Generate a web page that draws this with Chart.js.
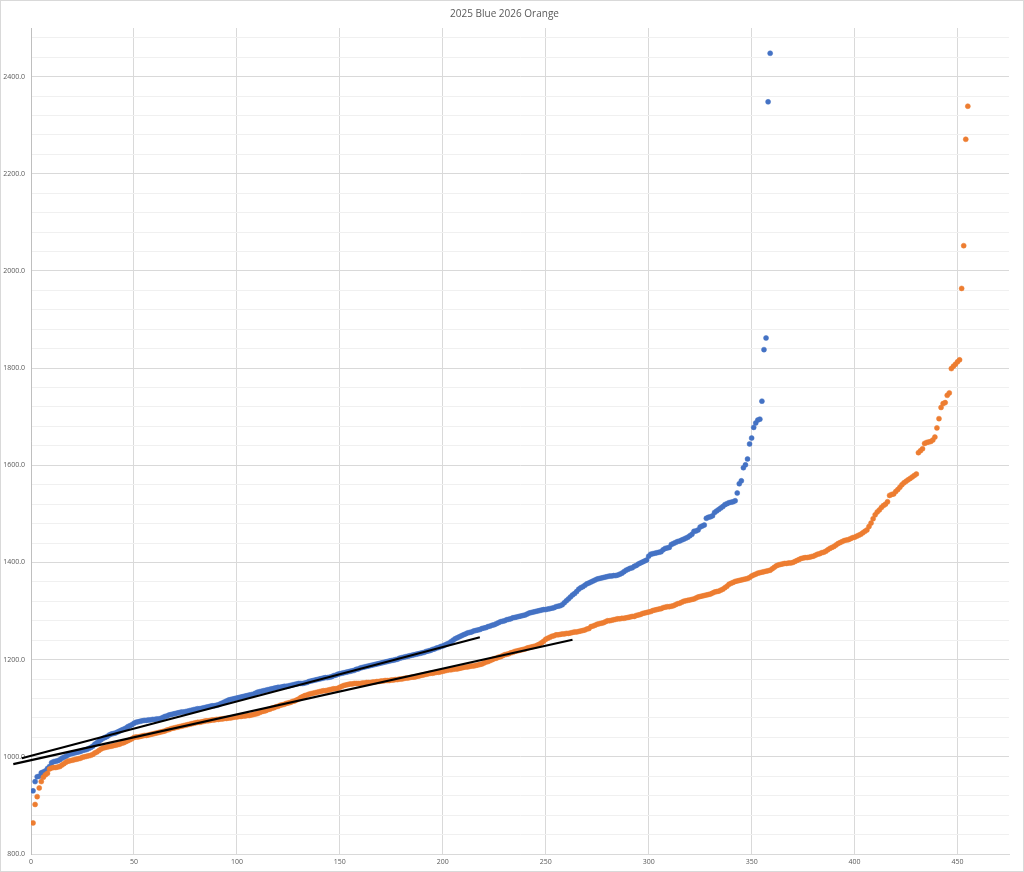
<!DOCTYPE html>
<html>
<head>
<meta charset="utf-8">
<script src="https://cdn.jsdelivr.net/npm/chart.js@4.4.1/dist/chart.umd.min.js"></script>
<style>
html,body{margin:0;padding:0;background:#fff;}
#wrap{width:1024px;height:872px;}
</style>
</head>
<body>
<div id="wrap"><canvas id="c" width="1024" height="872"></canvas></div>
<script>
const titleText = "2025 Blue 2026 Orange";
const xTicks = [0,50,100,150,200,250,300,350,400,450];
const yMajorTicks = [800,1000,1200,1400,1600,1800,2000,2200,2400];

// 2025 values (sorted), index 1..359
const blue2025 = [
930,949,959,960,967,969,971,976,980,988,990,991,992,994,997,999,1001,1004,1006,1007,
1008,1009,1010,1011,1013,1014,1015,1017,1019,1022,1026,1029,1032,1035,1038,1040,1042,1045,1047,1048,
1049,1051,1053,1055,1057,1059,1062,1064,1066,1069,1071,1072,1073,1074,1075,1075,1076,1076,1077,1077,
1078,1078,1079,1081,1083,1084,1086,1087,1088,1089,1090,1091,1092,1092,1093,1094,1095,1096,1097,1098,
1099,1099,1100,1101,1102,1103,1104,1105,1105,1106,1107,1109,1111,1113,1115,1117,1118,1119,1120,1121,
1122,1123,1124,1125,1126,1127,1128,1129,1131,1133,1134,1135,1136,1137,1138,1139,1140,1141,1142,1143,
1143,1144,1145,1145,1146,1147,1148,1149,1150,1151,1151,1151,1152,1153,1155,1156,1157,1158,1159,1160,
1161,1162,1163,1163,1164,1165,1167,1168,1170,1171,1172,1173,1174,1175,1176,1177,1178,1180,1181,1183,
1184,1185,1186,1187,1188,1189,1190,1191,1192,1193,1194,1195,1196,1197,1198,1199,1200,1201,1203,1204,
1205,1206,1207,1208,1209,1210,1211,1212,1213,1214,1215,1217,1218,1219,1221,1222,1224,1225,1227,1228,
1230,1232,1234,1237,1240,1243,1245,1247,1249,1251,1253,1255,1256,1257,1259,1260,1261,1262,1264,1265,
1266,1268,1269,1271,1272,1274,1276,1278,1279,1280,1282,1283,1284,1286,1287,1288,1289,1290,1291,1292,
1294,1296,1297,1298,1299,1300,1301,1302,1303,1303,1304,1305,1306,1307,1309,1310,1311,1313,1317,1321,
1325,1329,1333,1336,1340,1345,1348,1350,1353,1356,1358,1360,1362,1364,1366,1367,1368,1369,1370,1371,
1372,1372,1373,1373,1374,1376,1378,1381,1384,1386,1388,1389,1392,1394,1397,1399,1401,1403,1405,1413,
1417,1418,1419,1420,1421,1422,1426,1429,1430,1431,1437,1439,1441,1443,1444,1446,1448,1450,1452,1455,
1458,1464,1465,1467,1473,1475,1477,1491,1493,1494,1496,1503,1506,1509,1512,1515,1519,1521,1523,1524,
1525,1527,1543,1562,1568,1595,1601,1613,1644,1656,1678,1687,1693,1695,1732,1838,1862,2348,2448
];

// 2026 values (sorted), index 1..455
const orange2026 = [
864,902,918,936,949,958,963,966,975,977,978,978,979,980,983,986,989,991,992,993,
994,995,996,997,999,1000,1001,1002,1003,1005,1008,1010,1013,1016,1018,1019,1020,1021,1022,1023,
1024,1025,1026,1028,1029,1031,1033,1035,1037,1040,1041,1041,1042,1043,1044,1044,1045,1046,1047,1048,
1049,1050,1051,1052,1053,1055,1056,1058,1059,1060,1061,1062,1063,1064,1065,1066,1067,1068,1069,1070,
1071,1071,1072,1073,1074,1074,1075,1076,1076,1077,1077,1078,1078,1079,1079,1080,1080,1081,1082,1082,
1083,1083,1084,1084,1085,1085,1086,1087,1088,1089,1091,1093,1094,1095,1097,1098,1100,1101,1103,1104,
1106,1107,1108,1110,1111,1112,1114,1115,1117,1119,1122,1124,1126,1127,1129,1130,1131,1132,1133,1134,
1135,1136,1136,1137,1138,1139,1140,1140,1141,1143,1145,1147,1148,1149,1150,1150,1151,1151,1151,1151,
1152,1152,1153,1153,1153,1154,1154,1155,1155,1156,1156,1157,1157,1157,1158,1158,1159,1159,1160,1160,
1161,1162,1162,1163,1164,1164,1165,1166,1167,1168,1169,1170,1171,1172,1172,1173,1174,1174,1175,1176,
1177,1178,1179,1179,1180,1181,1181,1182,1183,1184,1185,1185,1186,1187,1187,1188,1189,1190,1191,1193,
1195,1196,1198,1200,1202,1203,1205,1206,1208,1210,1211,1212,1214,1215,1217,1218,1219,1220,1221,1222,
1224,1225,1226,1227,1228,1230,1232,1235,1238,1242,1244,1246,1248,1249,1251,1251,1252,1253,1253,1254,
1254,1255,1256,1257,1257,1258,1259,1260,1261,1263,1264,1268,1269,1271,1273,1274,1275,1276,1278,1280,
1280,1281,1282,1283,1284,1284,1285,1285,1286,1287,1288,1289,1289,1291,1292,1293,1295,1296,1297,1298,
1299,1301,1302,1303,1304,1305,1307,1308,1309,1309,1310,1311,1313,1315,1316,1318,1320,1321,1322,1323,
1324,1325,1327,1329,1330,1331,1332,1333,1334,1335,1337,1339,1340,1341,1343,1345,1348,1351,1355,1357,
1359,1361,1362,1363,1364,1365,1366,1367,1369,1372,1374,1376,1378,1379,1380,1381,1382,1383,1384,1387,
1390,1393,1395,1396,1397,1398,1398,1399,1399,1400,1402,1404,1406,1408,1409,1410,1410,1411,1412,1413,
1415,1417,1418,1420,1421,1423,1426,1429,1431,1433,1436,1439,1441,1443,1445,1446,1447,1449,1451,1452,
1454,1456,1458,1461,1464,1467,1474,1481,1490,1498,1504,1508,1513,1517,1520,1525,1538,1540,1541,1546,
1550,1555,1560,1564,1567,1570,1573,1576,1579,1582,1626,1630,1634,1645,1647,1648,1649,1652,1658,1677,
1696,1719,1727,1729,1744,1749,1799,1804,1808,1813,1817,1964,2052,2271,2339
];

// hand-drawn trend lines (data units)
const trendBlueX = [-4.5, 218];
const trendBlueY = [997, 1246];
const trendOrangeX = [-8.6, 263];
const trendOrangeY = [985, 1241];

const toPts = arr => arr.map((v, i) => ({x: i + 1, y: v}));
const toLine = (xs, ys) => xs.map((x, i) => ({x: x, y: ys[i]}));

const frame = {
  id: 'frame',
  beforeDraw(chart) {
    const c = chart.ctx;
    c.save();
    c.fillStyle = '#ffffff';
    c.fillRect(0, 0, chart.width, chart.height);
    c.restore();
  },
  afterDraw(chart) {
    const c = chart.ctx;
    c.save();
    c.strokeStyle = '#d9d9d9';
    c.lineWidth = 1;
    c.strokeRect(0.5, 0.5, chart.width - 1, chart.height - 1);
    c.restore();
  }
};

new Chart(document.getElementById('c'), {
  type: 'scatter',
  data: {
    datasets: [
      {
        label: 'trend 2025',
        data: toLine(trendBlueX, trendBlueY),
        showLine: true, borderColor: '#000000', borderWidth: 2.2,
        pointRadius: 0, clip: false, order: 0
      },
      {
        label: 'trend 2026',
        data: toLine(trendOrangeX, trendOrangeY),
        showLine: true, borderColor: '#000000', borderWidth: 2.2,
        pointRadius: 0, clip: false, order: 0
      },
      {
        label: '2026',
        data: toPts(orange2026),
        backgroundColor: '#ED7D31', borderColor: '#ED7D31',
        pointRadius: 2.5, pointBorderWidth: 0.5, order: 1
      },
      {
        label: '2025',
        data: toPts(blue2025),
        backgroundColor: '#4472C4', borderColor: '#4472C4',
        pointRadius: 2.5, pointBorderWidth: 0.5, order: 2
      }
    ]
  },
  options: {
    responsive: false,
    animation: false,
    devicePixelRatio: 1,
    layout: { padding: { left: 0, right: 15, top: 0, bottom: 0 } },
    plugins: {
      legend: { display: false },
      tooltip: { enabled: false },
      title: {
        display: true, text: titleText, color: '#595959',
        font: { family: 'Open Sans, Liberation Sans, sans-serif', size: 10, weight: 'normal' },
        padding: { top: 8, bottom: 8 }
      }
    },
    scales: {
      x: {
        type: 'linear', min: 0, max: 475,
        afterBuildTicks: s => { s.ticks = xTicks.map(v => ({value: v})); },
        afterFit: s => { s.height = 18; },
        grid: { color: '#d9d9d9', lineWidth: 1, drawTicks: false },
        border: { color: '#d9d9d9', width: 1 },
        ticks: {
          color: '#595959', padding: 4, maxRotation: 0,
          font: { family: 'Open Sans, Liberation Sans, sans-serif', size: 7 },
          callback: v => String(v)
        }
      },
      y: {
        type: 'linear', min: 800, max: 2500,
        afterBuildTicks: s => {
          const t = [];
          for (let v = 800; v <= 2480; v += 40) t.push({value: v});
          s.ticks = t;
        },
        afterFit: s => { s.width = 31; },
        grid: {
          drawTicks: false,
          color: c => (yMajorTicks.includes(c.tick.value) ? '#d9d9d9' : '#f0f0f0'),
          lineWidth: 1
        },
        border: { color: '#bfbfbf', width: 1 },
        ticks: {
          color: '#595959', padding: 6, autoSkip: false,
          font: { family: 'Open Sans, Liberation Sans, sans-serif', size: 7 },
          callback: v => (yMajorTicks.includes(v) ? v.toFixed(1) : '')
        }
      }
    }
  },
  plugins: [frame]
});
</script>
</body>
</html>
